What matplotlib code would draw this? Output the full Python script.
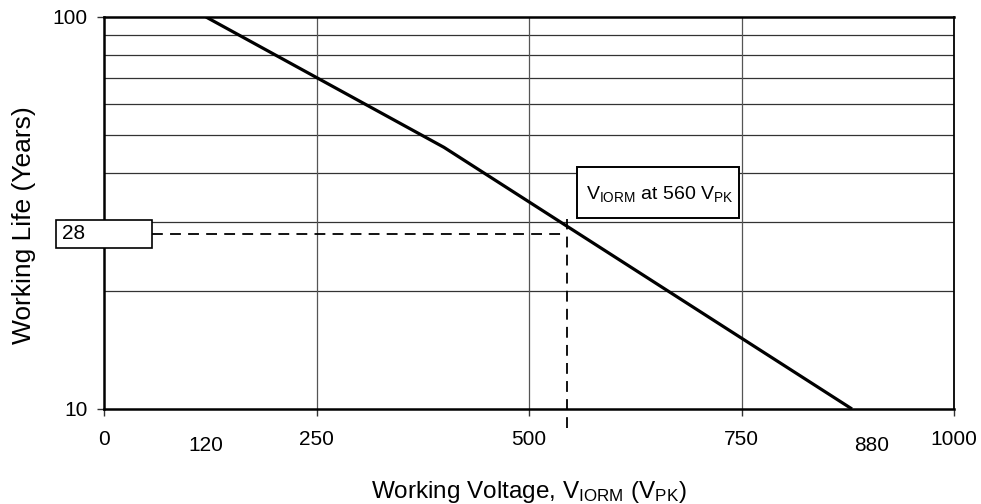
import matplotlib
matplotlib.use("Agg")
import matplotlib.pyplot as plt
from matplotlib.patches import Rectangle
import matplotlib.transforms as mtransforms

plt.rcParams['font.family'] = ['Liberation Sans', 'DejaVu Sans']
plt.rcParams['mathtext.fontset'] = 'custom'
plt.rcParams['mathtext.rm'] = 'Liberation Sans'
plt.rcParams['mathtext.it'] = 'Liberation Sans'

# curve
voltage = [120, 400, 880]
life = [100, 46.5, 10]

x_ticks = [0, 250, 500, 750, 1000]
x_extra = [120, 880]
x_extra_pos = [120, 903]
y_minor = [20, 30, 40, 50, 60, 70, 80, 90]

mark_v = 545
mark_life = 28

fig = plt.figure(figsize=(9.81, 5.04), dpi=100)
ax = fig.add_axes([104 / 981, 95 / 504, 850 / 981, 392 / 504])

ax.set_yscale('log')
ax.set_xlim(0, 1000)
ax.set_ylim(10, 100)

for v in y_minor:
    ax.axhline(v, color='#333333', lw=0.9, zorder=1)
for v in [250, 500, 750]:
    ax.axvline(v, color='#555555', lw=0.9, zorder=1)

ax.plot(voltage, life, color='black', lw=2.3, zorder=4, solid_capstyle='butt')

# dashed marker lines
ax.plot([56, mark_v], [mark_life, mark_life], color='black', lw=1.3,
        dashes=(6, 4), zorder=3, clip_on=False)
ax.plot([mark_v, mark_v], [8.97, 30.5], color='black', lw=1.3,
        dashes=(6, 4), zorder=3, clip_on=False)

# "28" box
ax.add_patch(Rectangle((-56, 25.8), 112, 4.5, fc='white', ec='black', lw=1.2,
                       zorder=5, clip_on=False))
ax.text(-49, mark_life, "28", fontsize=15, va='center', ha='left', zorder=6,
        clip_on=False)

# V_IORM box
ax.add_patch(Rectangle((556, 30.7), 191, 10.7, fc='white', ec='black', lw=1.4,
                       zorder=5))
ax.text(567, 35.3, r"V$_{\mathrm{IORM}}$ at 560 V$_{\mathrm{PK}}$", fontsize=14,
        va='center', ha='left', zorder=6)

ax.set_xticks(x_ticks)
ax.set_xticklabels([str(t) for t in x_ticks])
ax.set_yticks([10, 100])
ax.set_yticklabels(['10', '100'])
ax.set_yticks([], minor=True)
ax.tick_params(axis='both', which='major', labelsize=15, direction='out',
               length=5, width=1, color='#333333')
ax.tick_params(axis='x', pad=10)
ax.tick_params(axis='y', pad=7)

trans = mtransforms.blended_transform_factory(ax.transData, ax.transAxes)
for lab, pos in zip(x_extra, x_extra_pos):
    ax.text(pos, -0.093, str(lab), transform=trans, fontsize=15,
            ha='center', va='center')

for s in ['left', 'bottom', 'top']:
    ax.spines[s].set_linewidth(1.8)
ax.spines['right'].set_linewidth(1.3)

ax.set_xlabel(r"Working Voltage, V$_{\mathrm{IORM}}$ (V$_{\mathrm{PK}}$)", fontsize=17.5)
ax.set_ylabel("Working Life (Years)", fontsize=19)
ax.xaxis.set_label_coords(0.5, -0.178)
ax.yaxis.set_label_coords(-0.08, 0.469)

fig.savefig("out.png", dpi=100)
